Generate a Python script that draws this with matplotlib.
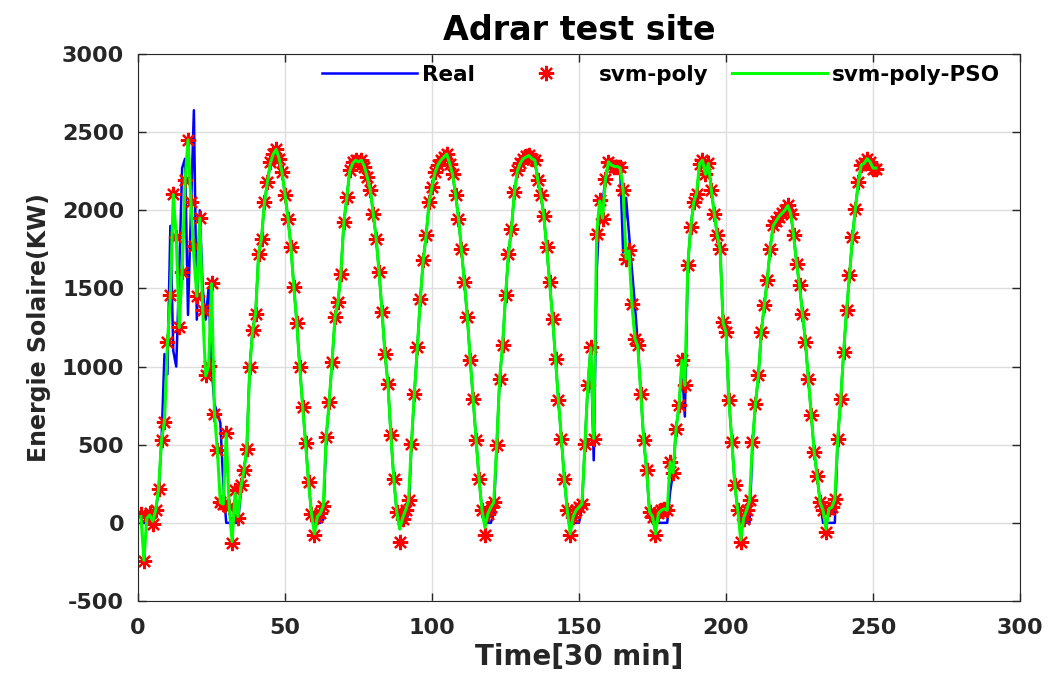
import numpy as np
import matplotlib
matplotlib.use("Agg")
import matplotlib.pyplot as plt

# Measured solar energy (KW), one row per day (30 min steps)
real = [
    0, 0, 0, 10, 30, 80, 200, 530, 1080, 950, 1900, 1100, 1000, 1600, 2270, 2330,
    1330, 2000, 2640, 1300, 2000, 1500, 1300, 1500, 1000, 760, 700, 640, 250, 0, 0,
    0, 0, 0, 200, 330, 480, 1000, 1240, 1340, 1720, 1820, 2050, 2180, 2300, 2360,
    2380, 2330, 2240, 2100, 1950, 1770, 1510, 1280, 1000, 750, 510, 260, 60,
    0, 0, 0, 20, 540, 770, 1030, 1310, 1410, 1600, 1920, 2080, 2250, 2300, 2310,
    2310, 2320, 2280, 2210, 2130, 1980, 1820, 1600, 1350, 1080, 890, 560, 280, 70,
    0, 0, 0, 60, 500, 830, 1120, 1430, 1680, 1840, 2050, 2150, 2240, 2290, 2320,
    2340, 2360, 2300, 2230, 2100, 1950, 1750, 1540, 1320, 1040, 790, 530, 280, 80,
    0, 0, 0, 60, 490, 920, 1130, 1450, 1720, 1880, 2110, 2250, 2300, 2330, 2340,
    2350, 2330, 2310, 2190, 2100, 1970, 1760, 1540, 1310, 1050, 780, 540, 280, 80,
    0, 0, 0, 0, 100, 500, 880, 1130, 400, 1600, 2000, 2050, 2200, 2300, 2290,
    2270, 2280, 2270, 1730, 2080, 1850, 1620, 1400, 1140, 830, 530, 330, 60, 0,
    0, 0, 0, 0, 0, 200, 320, 600, 750, 1000, 680, 1650, 1900, 2050, 2100,
    2290, 2310, 2240, 2300, 2130, 1980, 1840, 1750, 1290, 1220, 780, 520, 240, 80,
    0, 0, 0, 0, 500, 760, 940, 1220, 1390, 1550, 1750, 1900, 1950, 1980, 2000,
    2020, 2030, 1980, 1840, 1660, 1520, 1340, 1160, 920, 690, 450, 300, 130, 0,
    0, 0, 0, 0, 540, 790, 1090, 1360, 1580, 1830, 2010, 2180, 2290, 2300, 2330,
    2310, 2270, 2270,
]

svm_poly = [
    58, -241, 36, 60, -5, 79, 217, 531, 644, 1156, 1461, 2101, 1832, 1252, 1608, 2191,
    2451, 2056, 1770, 1450, 1949, 1365, 943, 1002, 1534, 698, 463, 132, 120, 576, 100,
    -130, 207, 30, 239, 335, 474, 996, 1235, 1338, 1723, 1818, 2052, 2180, 2308, 2362,
    2394, 2330, 2244, 2095, 1946, 1764, 1508, 1278, 996, 744, 510, 260, 57,
    -81, 40, 60, 110, 548, 772, 1028, 1316, 1412, 1595, 1924, 2084, 2255, 2308, 2319,
    2310, 2319, 2276, 2212, 2127, 1978, 1818, 1604, 1348, 1082, 890, 559, 282, 68,
    -124, 26, 79, 143, 506, 826, 1124, 1434, 1679, 1839, 2052, 2150, 2244, 2290, 2319,
    2340, 2362, 2298, 2234, 2095, 1946, 1754, 1540, 1316, 1039, 794, 527, 282, 79,
    -80, 59, 100, 132, 495, 921, 1135, 1455, 1722, 1882, 2116, 2255, 2300, 2330, 2345,
    2351, 2330, 2319, 2191, 2095, 1966, 1764, 1540, 1306, 1050, 783, 538, 282, 79,
    -81, 40, 79, 100, 123, 506, 879, 1124, 538, 1850, 2063, 1946, 2200, 2308, 2290,
    2276, 2280, 2276, 2127, 1690, 1743, 1403, 1179, 1135, 826, 527, 335, 68, 40,
    -81, 60, 79, 90, 79, 388, 316, 602, 751, 1039, 879, 1650, 1892, 2052, 2106,
    2298, 2319, 2234, 2300, 2127, 1978, 1839, 1754, 1284, 1220, 783, 516, 239, 79,
    -124, 26, 79, 143, 516, 762, 943, 1220, 1391, 1551, 1754, 1903, 1930, 1956, 1980,
    2000, 2031, 1978, 1839, 1658, 1519, 1338, 1156, 921, 687, 452, 300, 132, 80,
    -60, 90, 100, 154, 538, 794, 1092, 1359, 1583, 1828, 2010, 2180, 2287, 2300, 2330,
    2310, 2266, 2266,
]

svm_poly_pso = [
    40, -240, 30, 50, 10, 80, 220, 530, 650, 1150, 1460, 2100, 1830, 1250, 1610, 2190,
    2450, 2050, 1700, 1450, 1950, 1360, 940, 1000, 1530, 700, 460, 130, 120, 570, 100,
    -120, 190, 40, 230, 330, 480, 990, 1230, 1340, 1720, 1820, 2050, 2180, 2300, 2360,
    2390, 2330, 2240, 2100, 1950, 1760, 1510, 1280, 1000, 740, 510, 260, 60,
    -70, 40, 60, 110, 550, 770, 1030, 1320, 1410, 1600, 1920, 2080, 2250, 2300, 2320,
    2310, 2320, 2280, 2210, 2130, 1980, 1820, 1600, 1350, 1080, 890, 560, 280, 70,
    -40, 30, 80, 140, 510, 830, 1120, 1430, 1680, 1840, 2050, 2150, 2240, 2290, 2320,
    2340, 2360, 2300, 2230, 2100, 1950, 1750, 1540, 1320, 1040, 790, 530, 280, 80,
    -30, 60, 100, 130, 500, 920, 1140, 1450, 1720, 1880, 2110, 2250, 2300, 2330, 2340,
    2350, 2330, 2320, 2190, 2100, 1970, 1760, 1540, 1310, 1050, 780, 540, 280, 80,
    -70, 40, 80, 100, 120, 500, 880, 1120, 540, 1850, 2060, 1950, 2200, 2310, 2290,
    2280, 2280, 2270, 2130, 1690, 1740, 1400, 1180, 1130, 830, 530, 340, 70, 40,
    -70, 60, 80, 90, 80, 390, 320, 600, 750, 1040, 880, 1650, 1890, 2050, 2110,
    2300, 2320, 2230, 2300, 2130, 1980, 1840, 1750, 1280, 1220, 780, 520, 240, 80,
    -110, 30, 80, 140, 520, 760, 940, 1220, 1390, 1550, 1750, 1900, 1930, 1960, 1980,
    2000, 2030, 1980, 1840, 1660, 1520, 1340, 1160, 920, 690, 450, 300, 130, 80,
    -40, 90, 100, 150, 540, 790, 1090, 1360, 1580, 1830, 2010, 2180, 2290, 2300, 2330,
    2310, 2270, 2270,
]

x_ticks = [0, 50, 100, 150, 200, 250, 300]
y_ticks = [-500, 0, 500, 1000, 1500, 2000, 2500, 3000]

plt.rcParams["font.family"] = "DejaVu Sans"
plt.rcParams["font.weight"] = "bold"
plt.rcParams["axes.unicode_minus"] = False
text_color = "#262626"

fig = plt.figure(figsize=(10.48, 6.79), dpi=100)
ax = fig.add_axes([0.1317, 0.1149, 0.8416, 0.8056])

time = np.arange(1, len(real) + 1)
ax.plot(time, real, color="#0000ff", lw=1.8, label="Real")
ax.plot(time, svm_poly, ls="none", marker=(8, 2, 0), ms=11, color="red",
        mew=1.6, label="svm-poly")
ax.plot(time, svm_poly_pso, color="#00ff00", lw=2.2, label="svm-poly-PSO")

ax.set_xlim(0, 300)
ax.set_ylim(-500, 3000)
ax.set_xticks(x_ticks)
ax.set_yticks(y_ticks)
ax.grid(color="#dedede", lw=1)
ax.set_axisbelow(True)
ax.tick_params(direction="in", length=6, width=1, colors=text_color,
               labelsize=16, top=True, right=True)
ax.tick_params(axis="x", pad=12)
ax.tick_params(axis="y", pad=10)
for sp in ax.spines.values():
    sp.set_color(text_color)

ax.set_title("Adrar test site", fontsize=24, fontweight="bold", pad=10)
ax.set_xlabel("Time[30 min]", fontsize=20, fontweight="bold", color=text_color, labelpad=4)
ax.set_ylabel("Energie Solaire(KW)", fontsize=17, fontweight="bold", color=text_color, labelpad=8)

ax.legend(loc="center", bbox_to_anchor=(0.593, 0.9616), ncol=3, frameon=False,
          numpoints=1, handlelength=4.4, handletextpad=0.25, columnspacing=1.1,
          fontsize=15.5)

fig.savefig("out.png", dpi=100)
